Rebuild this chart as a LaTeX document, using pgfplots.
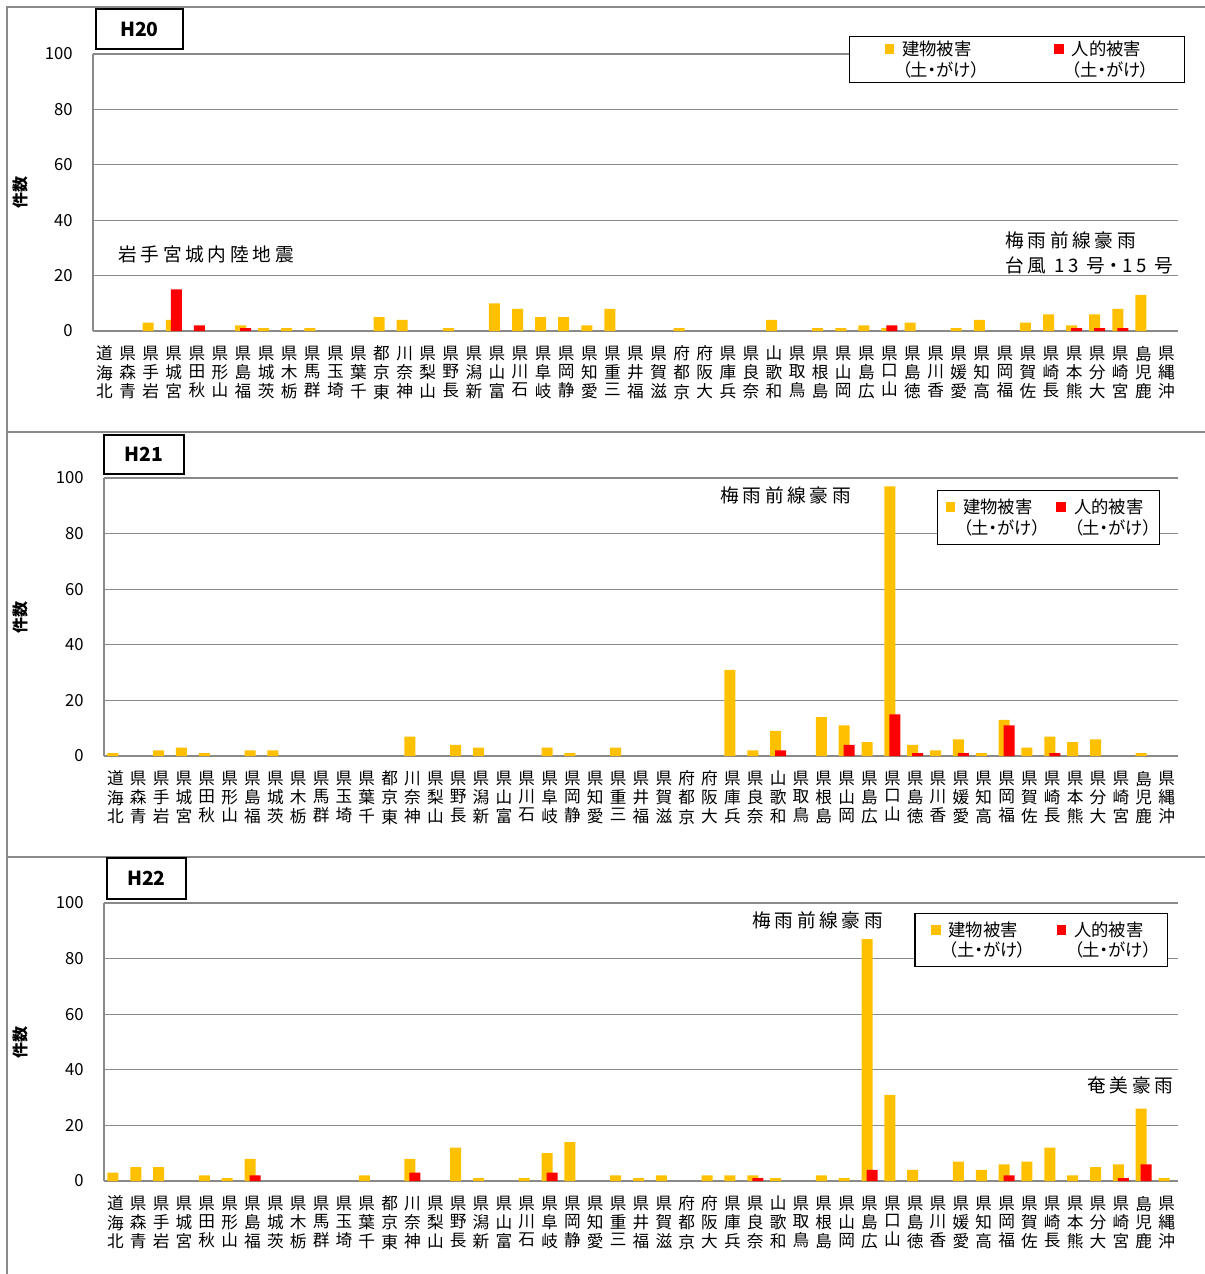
\documentclass[border=0pt]{standalone}
\usepackage{fontspec}
\setmainfont{Noto Sans CJK JP}[RawFeature=+palt]
\usepackage{pgfplots}
\pgfplotsset{compat=1.18}
\definecolor{bo}{HTML}{FFC000}
\definecolor{br}{HTML}{FF0000}
\definecolor{gr}{HTML}{898989}
\newcommand\vl[3]{\begin{tabular}{@{}c@{}}#3\\#2\\#1\end{tabular}}
\newcommand\annfont{\fontsize{14}{16}\selectfont\addfontfeatures{LetterSpace=20}}
\pgfplotsset{
  sq/.style={legend image code/.code={\fill[##1] (0pt,-3.6pt) rectangle (7.2pt,3.6pt);}},
  obar/.style={ybar, bar width=8.25pt, bar shift=-1.875pt, fill=bo, draw=none, sq},
  rbar/.style={ybar, bar width=8.25pt, bar shift=1.875pt, fill=br, draw=none, sq},
  inv/.style={legend image code/.code={\path[draw=none,fill=none] (0pt,-3.6pt) rectangle (7.2pt,3.6pt);}},
  panel/.style={
    scale only axis,
    xmin=-0.5, xmax=46.5, ymin=0, ymax=100,
    ytick={0,20,...,100},
    xtick={0,...,46},
    xticklabels={\vl 北海道,\vl 青森県,\vl 岩手県,\vl 宮城県,\vl 秋田県,\vl 山形県,\vl 福島県,\vl 茨城県,\vl 栃木県,\vl 群馬県,\vl 埼玉県,\vl 千葉県,\vl 東京都,\vl 神奈川,\vl 山梨県,\vl 長野県,\vl 新潟県,\vl 富山県,\vl 石川県,\vl 岐阜県,\vl 静岡県,\vl 愛知県,\vl 三重県,\vl 福井県,\vl 滋賀県,\vl 京都府,\vl 大阪府,\vl 兵庫県,\vl 奈良県,\vl 和歌山,\vl 鳥取県,\vl 島根県,\vl 岡山県,\vl 広島県,\vl 山口県,\vl 徳島県,\vl 香川県,\vl 愛媛県,\vl 高知県,\vl 福岡県,\vl 佐賀県,\vl 長崎県,\vl 熊本県,\vl 大分県,\vl 宮崎県,\vl 鹿児島,\vl 沖縄県},
    ymajorgrids, grid style={gr, line width=0.8pt},
    axis x line*=bottom, axis y line*=left,
    axis line style={gr, line width=0.8pt, -},
    major tick length=0pt,
    xticklabel style={font=\fontsize{12.5}{12.75}\selectfont, anchor=north, inner sep=0pt, yshift=-11pt},
    yticklabel style={font=\fontsize{12.5}{14}\selectfont, anchor=east, inner sep=0pt, xshift=-15pt},
    /pgf/number format/assume math mode=true,
    ylabel={件数},
    ylabel style={font=\bfseries\fontsize{12}{14}\selectfont, at={(rel axis cs:0,0.5)}, anchor=center},
    legend columns=2,
    legend cell align=left,
    legend style={draw=black, line width=1pt, fill=white,
      font=\fontsize{13}{15}\selectfont,
      nodes={inner sep=0pt},
      inner ysep=3.2pt, row sep=2.8pt, column sep=6pt},
  }
}
\begin{document}
\begin{tikzpicture}
\begin{scope}[x=0.75pt,y=-0.75pt]
\path[use as bounding box] (0,0) rectangle (1205,1274);
\draw[gr, line width=0.9pt] (7,1274) -- (7,7) -- (1205,7);
\draw[gr, line width=0.9pt] (7,432) -- (1205,432);
\draw[gr, line width=0.9pt] (7,857) -- (1205,857);
\draw[line width=1.5pt] (96,9) rectangle (183,49);
\node[font=\bfseries\fontsize{14.5}{16}\selectfont] at (139.5,29) {H20};
\draw[line width=1.5pt] (104,435) rectangle (184,474);
\node[font=\bfseries\fontsize{14.5}{16}\selectfont] at (144,454.5) {H21};
\draw[line width=1.5pt] (107,858) rectangle (186,899);
\node[font=\bfseries\fontsize{14.5}{16}\selectfont] at (146.5,878.5) {H22};
\node[anchor=west, inner sep=0pt, font=\annfont] at (118,254) {岩手宮城内陸地震};
\node[anchor=west, inner sep=0pt, font=\annfont] at (1005,240) {梅雨前線豪雨};
\node[anchor=west, inner sep=0pt, font=\annfont] at (1005,265) {台風 13 号・15 号};
\node[anchor=west, inner sep=0pt, font=\annfont] at (720,495) {梅雨前線豪雨};
\node[anchor=west, inner sep=0pt, font=\annfont] at (752,920) {梅雨前線豪雨};
\node[anchor=west, inner sep=0pt, font=\annfont] at (1087,1085) {奄美豪雨};
\end{scope}

% H20
\begin{axis}[panel, at={(69.75pt,-248.25pt)}, anchor=south west, width=813.75pt, height=207.75pt,
  ylabel style={yshift=54.75pt},
  legend style={at={(1.00645,1.065)}, anchor=north east, inner xsep=26.5pt,
    /tikz/every even column/.append style={column sep=56pt}}]
\addplot[obar] coordinates {(2,3)(3,4)(6,2)(7,1)(8,1)(9,1)(12,5)(13,4)(15,1)(17,10)(18,8)(19,5)(20,5)(21,2)(22,8)(25,1)(29,4)(31,1)(32,1)(33,2)(34,1)(35,3)(37,1)(38,4)(40,3)(41,6)(42,2)(43,6)(44,8)(45,13)};
\addlegendentry{建物被害}
\addplot[rbar] coordinates {(3,15)(4,2)(6,1)(34,2)(42,1)(43,1)(44,1)};
\addlegendentry{人的被害}
\addlegendimage{inv}\addlegendentry{（土・がけ）}
\addlegendimage{inv}\addlegendentry{（土・がけ）}
\end{axis}

% H21
\begin{axis}[panel, at={(78pt,-567pt)}, anchor=south west, width=805.5pt, height=208.5pt,
  ylabel style={yshift=63pt},
  legend style={at={(0.9832,0.9568)}, anchor=north east, inner xsep=6pt, inner ysep=6.2pt,
    /tikz/every even column/.append style={column sep=12pt}}]
\addplot[obar] coordinates {(0,1)(2,2)(3,3)(4,1)(6,2)(7,2)(13,7)(15,4)(16,3)(19,3)(20,1)(22,3)(27,31)(28,2)(29,9)(31,14)(32,11)(33,5)(34,97)(35,4)(36,2)(37,6)(38,1)(39,13)(40,3)(41,7)(42,5)(43,6)(45,1)};
\addlegendentry{建物被害}
\addplot[rbar] coordinates {(29,2)(32,4)(34,15)(35,1)(37,1)(39,11)(41,1)};
\addlegendentry{人的被害}
\addlegendimage{inv}\addlegendentry{（土・がけ）}
\addlegendimage{inv}\addlegendentry{（土・がけ）}
\end{axis}

% H22
\begin{axis}[panel, at={(78pt,-885.75pt)}, anchor=south west, width=805.5pt, height=208.5pt,
  ylabel style={yshift=63pt},
  legend style={at={(0.9907,0.964)}, anchor=north east, inner xsep=12pt, inner ysep=5.8pt,
    /tikz/every even column/.append style={column sep=23pt}}]
\addplot[obar] coordinates {(0,3)(1,5)(2,5)(4,2)(5,1)(6,8)(11,2)(13,8)(15,12)(16,1)(18,1)(19,10)(20,14)(22,2)(23,1)(24,2)(26,2)(27,2)(28,2)(29,1)(31,2)(32,1)(33,87)(34,31)(35,4)(37,7)(38,4)(39,6)(40,7)(41,12)(42,2)(43,5)(44,6)(45,26)(46,1)};
\addlegendentry{建物被害}
\addplot[rbar] coordinates {(6,2)(13,3)(19,3)(28,1)(33,4)(39,2)(44,1)(45,6)};
\addlegendentry{人的被害}
\addlegendimage{inv}\addlegendentry{（土・がけ）}
\addlegendimage{inv}\addlegendentry{（土・がけ）}
\end{axis}
\end{tikzpicture}
\end{document}
